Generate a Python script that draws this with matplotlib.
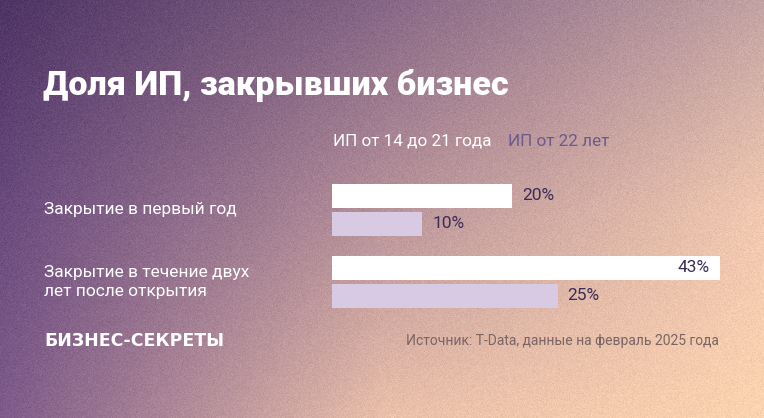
import numpy as np
import matplotlib
matplotlib.use("Agg")
import matplotlib.pyplot as plt

# ---- data ----
categories = ["Закрытие в первый год", "Закрытие в течение двух\nлет после открытия"]
series_names = ["ИП от 14 до 21 года", "ИП от 22 лет"]
young = [20, 43]
older = [10, 25]
title = "Доля ИП, закрывших бизнес"
brand = "БИЗНЕС-СЕКРЕТЫ"
source = "Источник: T-Data, данные на февраль 2025 года"

W, H = 764, 418
fig = plt.figure(figsize=(W / 100, H / 100), dpi=100)

# ---- background gradient (3x3 colour grid, bilinear) ----
def hx(s):
    s = s.lstrip("#")
    return [int(s[i:i + 2], 16) / 255 for i in (0, 2, 4)]

grid = np.array([
    [hx("#4d3464"), hx("#866686"), hx("#c3a3a3")],
    [hx("#6a4a7e"), hx("#b7929a"), hx("#f2c9b0")],
    [hx("#7e5b8a"), hx("#ebc1aa"), hx("#fdd4b0")],
])
gx = np.array([0, W / 2, W])
gy = np.array([0, H / 2, H])
xs = np.arange(W)
ys = np.arange(H)
rows = np.stack([np.stack([np.interp(xs, gx, grid[r, :, c]) for c in range(3)], -1)
                 for r in range(3)])  # 3 x W x 3
img = np.empty((H, W, 3))
for c in range(3):
    for j in range(W):
        img[:, j, c] = np.interp(ys, gy, rows[:, j, c])
rng = np.random.default_rng(1)
img = np.clip(img + rng.normal(0, 0.018, (H, W, 1)), 0, 1)

bg = fig.add_axes([0, 0, 1, 1])
bg.imshow(img, extent=(0, W, H, 0), aspect="auto", interpolation="nearest")
bg.set_xlim(0, W)
bg.set_ylim(H, 0)
bg.axis("off")

# ---- bar axes (pixel-like coordinates) ----
x0_px, x43_px = 332, 720
scale = (x43_px - x0_px) / 43.0
ax = fig.add_axes([0, 0, 1, 1])
ax.set_xlim(-x0_px / scale, (W - x0_px) / scale)
ax.set_ylim(H, 0)
ax.axis("off")
ax.patch.set_alpha(0)

font = "Roboto"
group_y = 210 + 72 * np.arange(len(categories))
bar_h = 24
white = "#ffffff"
lav = "#d9cae3"
dark = "#3a2c57"

ax.barh(group_y - 14, young, height=bar_h, color=white, edgecolor="none")
ax.barh(group_y + 14, older, height=bar_h, color=lav, edgecolor="none")

for i in range(len(categories)):
    for val, y in ((young[i], group_y[i] - 14), (older[i], group_y[i] + 14)):
        if val >= 40:
            ax.annotate(f"{val}%", (val, y), xytext=(-10, 0), textcoords="offset pixels",
                        ha="right", va="center", fontsize=12.5, color=dark, family=font)
        else:
            ax.annotate(f"{val}%", (val, y), xytext=(10, 0), textcoords="offset pixels",
                        ha="left", va="center", fontsize=12.5, color=dark, family=font)
    fig.text(44 / W, 1 - group_y[i] / H, categories[i], ha="left", va="center",
             fontsize=12.5, color="white", family=font, linespacing=1.4)

# legend
fig.text(333 / W, 1 - 141 / H, series_names[0], ha="left", va="center",
         fontsize=12.3, color="white", family=font)
fig.text(508 / W, 1 - 141 / H, series_names[1], ha="left", va="center",
         fontsize=12.3, color="#6c5a8c", family=font)

# title
fig.text(43 / W, 1 - 85 / H, title, ha="left", va="center", fontsize=24.6,
         fontweight="heavy", color="white", family=font)

# footer
fig.text(44 / W, 1 - 341 / H, brand, ha="left", va="center", fontsize=12.5,
         fontweight="bold", color="white", family="DejaVu Sans")
fig.text(719 / W, 1 - 341 / H, source, ha="right", va="center", fontsize=10,
         color="#7a6466", family=font)

fig.savefig("out.png", dpi=100)
